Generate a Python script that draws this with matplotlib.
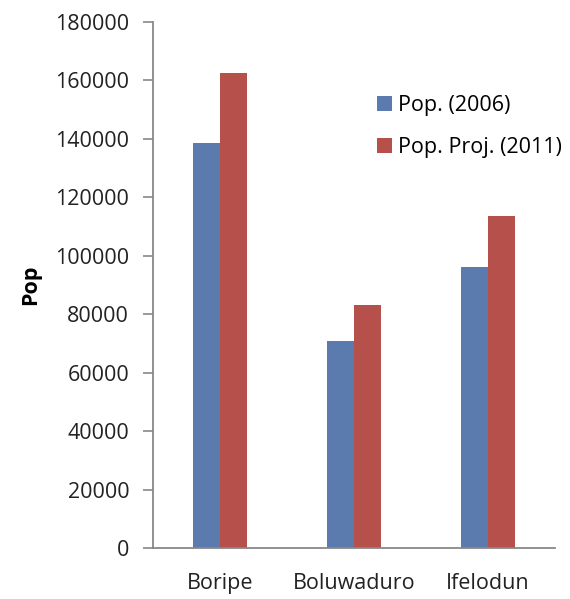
import numpy as np
import matplotlib.pyplot as plt

# population per local government area
areas = ["Boripe", "Boluwaduro", "Ifelodun"]
pop_2006 = [138600, 70900, 96200]
pop_2011 = [162500, 83200, 113400]
yticks = list(range(0, 180001, 20000))

plt.rcParams['font.family'] = ['Open Sans', 'DejaVu Sans']

fig = plt.figure(figsize=(5.7, 5.99), dpi=100)
ax = fig.add_axes([0.268, 0.085, 0.706, 0.879])

x = np.arange(len(areas))
w = 0.2
ax.bar(x - w / 2, pop_2006, w, color='#5B7BAE', label='Pop. (2006)')
ax.bar(x + w / 2, pop_2011, w, color='#B5504B', label='Pop. Proj. (2011)')

ax.set_xlim(-0.5, 2.5)
ax.set_ylim(0, 180000)
ax.set_yticks(yticks)
ax.set_yticklabels([str(v) for v in yticks], fontsize=15.5, color='#222222')
ax.set_xticks(x)
ax.set_xticklabels(areas, fontsize=15.5, color='#222222')
ax.tick_params(axis='x', length=0, pad=18)
ax.tick_params(axis='y', length=7, width=1.2, color='#888888', pad=10)

for s in ['top', 'right']:
    ax.spines[s].set_visible(False)
for s in ['left', 'bottom']:
    ax.spines[s].set_color('#888888')
    ax.spines[s].set_linewidth(1.3)

ax.set_ylabel('Pop', fontsize=15.5, fontweight='bold', labelpad=10)

ax.legend(loc='upper left', bbox_to_anchor=(0.535, 0.877), frameon=False,
          fontsize=15.5, handlelength=0.7, handleheight=0.7,
          handletextpad=0.3, labelspacing=1.0, borderaxespad=0)

fig.savefig('out.png', dpi=100)
